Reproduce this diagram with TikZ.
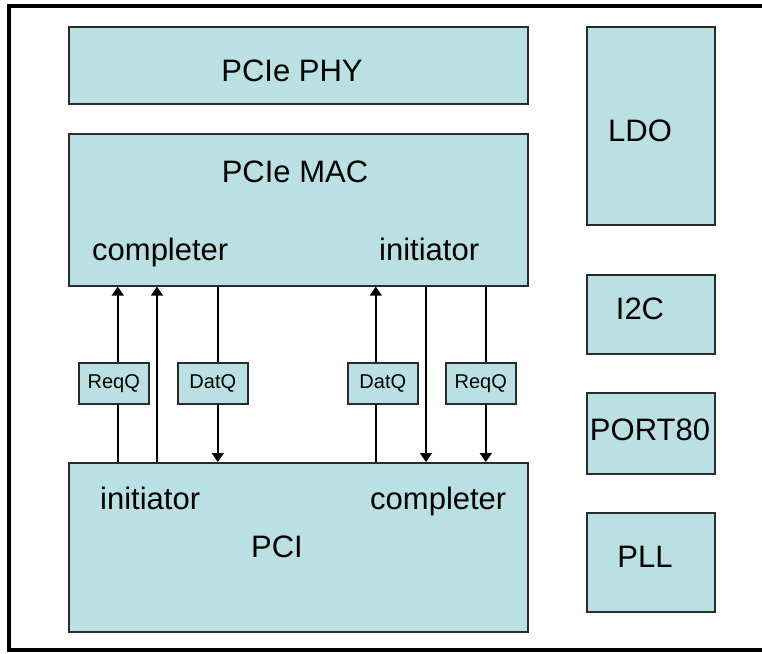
\documentclass[tikz,border=0pt]{standalone}
\usepackage{fontspec}
\setmainfont{Liberation Sans}
\usetikzlibrary{arrows.meta}
\definecolor{blok}{RGB}{187,224,227}
\definecolor{rob}{RGB}{40,44,44}

\begin{document}
\begin{tikzpicture}[x=1pt,y=-1pt,
  blok/.style={draw=rob,line width=1.6pt,fill=blok,inner sep=0pt,anchor=north west},
  vrsta/.style={blok,minimum width=70pt,minimum height=41pt,font=\fontsize{20}{22}\selectfont},
  napis/.style={font=\fontsize{31}{36}\selectfont,inner sep=0pt},
  >={Triangle[length=9pt,width=12pt]}]
\useasboundingbox (0,0) rectangle (762,653);

%okvir
\draw [line width=4pt] (762,5.5)--(8.5,5.5)--(8.5,650)--(762,650);

%glavni bloki
\node[blok,minimum width=459pt,minimum height=77pt] (phy) at (68,26) {};
\node[blok,minimum width=459pt,minimum height=152pt] (mac) at (68,133) {};
\node[blok,minimum width=459pt,minimum height=169pt] (pci) at (68,462) {};

%bloki desno
\node[blok,minimum width=128pt,minimum height=198pt] (ldo) at (586,26) {};
\node[blok,minimum width=128pt,minimum height=79pt] (i2c) at (586,274) {};
\node[blok,minimum width=128pt,minimum height=81pt] (port) at (586,392) {};
\node[blok,minimum width=128pt,minimum height=99pt] (pll) at (586,512) {};

%napisi
\node[napis,anchor=base] (phyt) at (292,81) {PCIe PHY};
\node[napis,anchor=base] (mact) at (295,182) {PCIe MAC};
\node[napis,anchor=base west] (macc) at (92,260) {completer};
\node[napis,anchor=base west] (maci) at (379,260) {initiator};
\node[napis,anchor=base west] (pcii) at (100,509) {initiator};
\node[napis,anchor=base west] (pcic) at (370,509) {completer};
\node[napis,anchor=base] (pcit) at (277,557) {PCI};
\node[napis,anchor=base] (ldot) at (640,141) {LDO};
\node[napis,anchor=base] (i2ct) at (640,319) {I2C};
\node[napis,anchor=base] (portt) at (650,440) {PORT80};
\node[napis,anchor=base] (pllt) at (645,567) {PLL};

%vrste
\node[vrsta] (reqa) at (78,362) {ReqQ};
\node[vrsta] (data) at (177,362) {DatQ};
\node[vrsta] (datb) at (347,362) {DatQ};
\node[vrsta] (reqb) at (445,362) {ReqQ};

%povezave
\coordinate (k2) at (157,0);
\coordinate (k5) at (426,0);
\begin{scope}[line width=1.5pt]
\draw ([xshift=4pt]reqa.south |- pci.north)--([xshift=4pt]reqa.south);
\draw[->] ([xshift=4pt]reqa.north)--([xshift=4pt]reqa.north |- mac.south);
\draw[->] (k2 |- pci.north)--(k2 |- mac.south);
\draw ([xshift=5pt]data.north |- mac.south)--([xshift=5pt]data.north);
\draw[->] ([xshift=5pt]data.south)--([xshift=5pt]data.south |- pci.north);
\draw ([xshift=-7pt]datb.south |- pci.north)--([xshift=-7pt]datb.south);
\draw[->] ([xshift=-7pt]datb.north)--([xshift=-7pt]datb.north |- mac.south);
\draw[->] (k5 |- mac.south)--(k5 |- pci.north);
\draw ([xshift=5pt]reqb.north |- mac.south)--([xshift=5pt]reqb.north);
\draw[->] ([xshift=5pt]reqb.south)--([xshift=5pt]reqb.south |- pci.north);
\end{scope}

\end{tikzpicture}
\end{document}
